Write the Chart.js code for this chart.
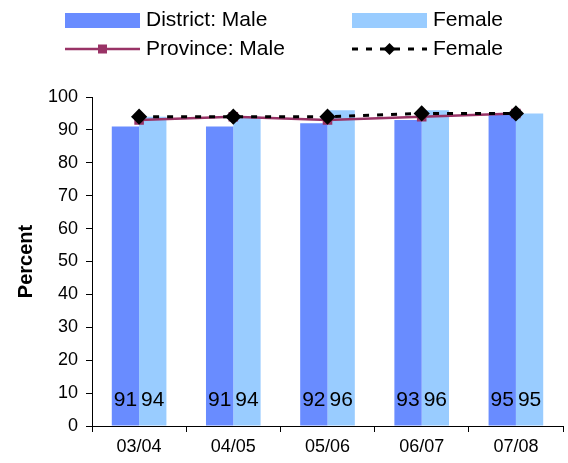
<!DOCTYPE html>
<html>
<head>
<meta charset="utf-8">
<script src="https://cdn.jsdelivr.net/npm/chart.js@4"></script>
<style>
    html, body { margin: 0; padding: 0; background: #fff; overflow: hidden; }
    #chart { display: block; }
</style>
</head>
<body>
<canvas id="chart" width="572" height="463"></canvas>
<script>
// Données du graphique
const years = ['03/04', '04/05', '05/06', '06/07', '07/08'];
const districtMale = [91, 91, 92, 93, 95];
const districtFemale = [94, 94, 96, 96, 95];
const provinceMale = [93, 94, 93, 94, 95];
const provinceFemale = [94, 94, 94, 95, 95];
const yTicks = [0, 10, 20, 30, 40, 50, 60, 70, 80, 90, 100];

const FONT = '"Liberation Sans", Arial, sans-serif';

/**
 * Étiquettes de valeur en bas des barres
 */
const barLabels = {
    id: 'barLabels',
    afterDatasetsDraw(chart) {
        const ctx = chart.ctx;
        ctx.save();
        ctx.font = '21px ' + FONT;
        ctx.fillStyle = '#000';
        ctx.textAlign = 'center';
        ctx.textBaseline = 'middle';
        chart.data.datasets.forEach((ds, i) => {
            if (ds.type !== 'bar') return;
            const meta = chart.getDatasetMeta(i);
            meta.data.forEach((bar, j) => {
                ctx.fillText(String(ds.data[j]), bar.x, bar.base - 25);
            });
        });
        ctx.restore();
    }
};

/**
 * Légende sur deux colonnes, dessinée à la main
 */
const gridLegend = {
    id: 'gridLegend',
    afterDraw(chart) {
        const ctx = chart.ctx;
        const ds = chart.data.datasets;
        const cols = [65, 352];
        const rows = [20, 49];
        const sw = 75;
        ctx.save();
        ctx.font = '21px ' + FONT;
        ctx.textBaseline = 'middle';
        ds.forEach((d, i) => {
            const x = cols[i % 2];
            const y = rows[Math.floor(i / 2)];
            if (d.type === 'bar') {
                ctx.fillStyle = d.backgroundColor;
                ctx.fillRect(x, y - 7, sw, 15);
            } else {
                ctx.strokeStyle = d.borderColor;
                ctx.lineWidth = d.borderWidth;
                ctx.setLineDash(d.borderDash || []);
                ctx.beginPath();
                ctx.moveTo(x, y);
                ctx.lineTo(x + sw, y);
                ctx.stroke();
                ctx.setLineDash([]);
                ctx.fillStyle = d.pointBackgroundColor;
                const cx = x + sw / 2;
                if (d.pointStyle === 'rect') {
                    ctx.fillRect(cx - 4.5, y - 4.5, 9, 9);
                } else {
                    ctx.beginPath();
                    ctx.moveTo(cx, y - 6);
                    ctx.lineTo(cx + 6, y);
                    ctx.lineTo(cx, y + 6);
                    ctx.lineTo(cx - 6, y);
                    ctx.closePath();
                    ctx.fill();
                }
            }
            ctx.fillStyle = '#000';
            ctx.fillText(d.label, x + sw + 6, y);
        });
        ctx.restore();
    }
};

const ctx = document.getElementById('chart').getContext('2d');
new Chart(ctx, {
    type: 'bar',
    data: {
        labels: years,
        datasets: [{
            type: 'bar',
            label: 'District: Male',
            data: districtMale,
            backgroundColor: '#698cff',
            order: 2
        }, {
            type: 'bar',
            label: 'Female',
            data: districtFemale,
            backgroundColor: '#99ccff',
            order: 3
        }, {
            type: 'line',
            label: 'Province: Male',
            data: provinceMale,
            borderColor: '#993366',
            borderWidth: 2.5,
            pointStyle: 'rect',
            pointRadius: 5,
            pointBackgroundColor: '#993366',
            pointBorderColor: '#993366',
            tension: 0,
            order: 1
        }, {
            type: 'line',
            label: 'Female',
            data: provinceFemale,
            borderColor: '#000',
            borderWidth: 3,
            borderDash: [6, 8],
            pointStyle: 'rectRot',
            pointRadius: 6,
            pointBackgroundColor: '#000',
            pointBorderColor: '#000',
            tension: 0,
            order: 0
        }]
    },
    options: {
        responsive: false,
        animation: false,
        layout: { padding: { top: 97, left: 0, right: 0, bottom: 0 } },
        datasets: {
            bar: { categoryPercentage: 0.58, barPercentage: 1 }
        },
        plugins: {
            legend: { display: false },
            tooltip: { enabled: false }
        },
        scales: {
            x: {
                offset: true,
                grid: { offset: true, drawOnChartArea: false, tickLength: 6, color: '#000' },
                border: { color: '#000', width: 1 },
                ticks: { color: '#000', font: { family: FONT, size: 18 }, padding: 4 },
                afterFit(scale) { scale.height = 37; }
            },
            y: {
                min: 0,
                max: 100,
                afterBuildTicks(scale) { scale.ticks = yTicks.map(v => ({ value: v })); },
                grid: { drawOnChartArea: false, tickLength: 6, color: '#000' },
                border: { color: '#000', width: 1 },
                ticks: { color: '#000', font: { family: FONT, size: 18 }, padding: 8 },
                title: {
                    display: true,
                    text: 'Percent',
                    color: '#000',
                    font: { family: FONT, size: 20, weight: 'bold' },
                    padding: { top: 14, bottom: 0 }
                },
                afterFit(scale) { scale.width = 92; }
            }
        }
    },
    plugins: [barLabels, gridLegend]
});
</script>
</body>
</html>
